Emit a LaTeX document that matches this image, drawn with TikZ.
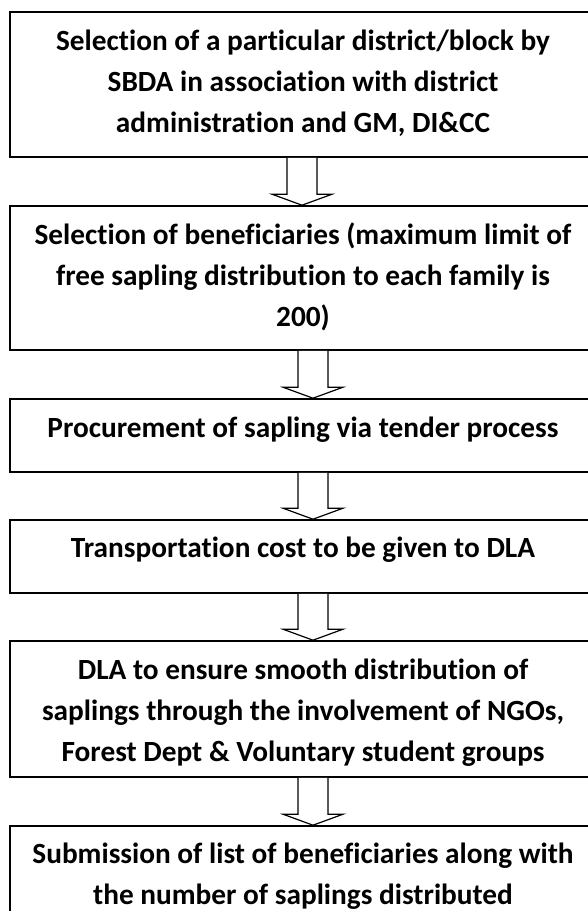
\documentclass[tikz,border=0pt]{standalone}
\usepackage{fontspec}
\setmainfont{Carlito}[Ligatures={NoCommon,NoContextual}]
\tikzset{
    stagetext/.style={align=center, font=\bfseries\fontsize{29.3}{41}\selectfont},
    hollow/.style={draw=black, fill=white, line width=1.2pt, line join=miter}
}
\begin{document}
\begin{tikzpicture}[x=1pt,y=1pt]
                \useasboundingbox (0,0) rectangle (587,-911);
                \begin{scope}[
                        every node/.style={rectangle, draw, line width=1.6pt, minimum width=586pt, inner sep=0pt}
                    ]

                    \node (b1) at (303,-84.5) [minimum height=145pt] {};
                    \node (b2) at (303,-278) [minimum height=144pt] {};
                    \node (b3) at (303,-435.5) [minimum height=73pt] {};
                    \node (b4) at (303,-556.5) [minimum height=73pt] {};
                    \node (b5) at (303,-709) [minimum height=136pt] {};
                    \node (b6) at (303,-883) [minimum height=114pt] {};
                \end{scope}

                \node[stagetext] (t1) at (303,-83) {Selection of a particular district/block by\\SBDA in association with district\\administration and GM, DI\&CC};
                \node[stagetext] (t2) at (303,-276.5) {Selection of beneficiaries (maximum limit of\\free sapling distribution to each family is\\200)};
                \node[stagetext] (t3) at (303,-430) {Procurement of sapling via tender process};
                \node[stagetext] (t4) at (303,-550) {Transportation cost to be given to DLA};
                \node[stagetext] (t5) at (303,-712.5) {DLA to ensure smooth distribution of\\saplings through the involvement of NGOs,\\Forest Dept \& Voluntary student groups};
                \node[stagetext] (t6) at (303,-876.5) {Submission of list of beneficiaries along with\\the number of saplings distributed};

                \draw[hollow] ([xshift=-16pt]b1.south) -- ([xshift=-16pt,yshift=11pt]b2.north) -- ++(-15pt,0) -- ([xshift=-1pt]b2.north) -- ++(30pt,11pt) -- ++(-15pt,0) -- ([xshift=14pt]b1.south);
                \draw[hollow] ([xshift=-5pt]b2.south) -- ([xshift=-5pt,yshift=11pt]b3.north) -- ++(-15pt,0) -- ([xshift=10pt]b3.north) -- ++(30pt,11pt) -- ++(-15pt,0) -- ([xshift=25pt]b2.south);
                \draw[hollow] ([xshift=-5pt]b3.south) -- ([xshift=-5pt,yshift=11pt]b4.north) -- ++(-15pt,0) -- ([xshift=10pt]b4.north) -- ++(30pt,11pt) -- ++(-15pt,0) -- ([xshift=25pt]b3.south);
                \draw[hollow] ([xshift=-5pt]b4.south) -- ([xshift=-5pt,yshift=11pt]b5.north) -- ++(-15pt,0) -- ([xshift=10pt]b5.north) -- ++(30pt,11pt) -- ++(-15pt,0) -- ([xshift=25pt]b4.south);
                \draw[hollow] ([xshift=-5pt]b5.south) -- ([xshift=-5pt,yshift=11pt]b6.north) -- ++(-15pt,0) -- ([xshift=10pt]b6.north) -- ++(30pt,11pt) -- ++(-15pt,0) -- ([xshift=25pt]b5.south);
            \end{tikzpicture}
\end{document}
